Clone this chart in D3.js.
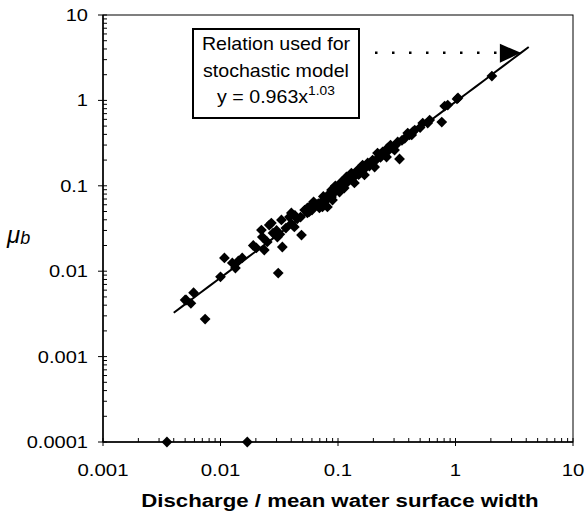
<!DOCTYPE html>
<html>
<head>
<meta charset="utf-8">
<script src="https://cdn.jsdelivr.net/npm/d3@7/dist/d3.min.js"></script>
<style>
  body { margin: 0; background: #fff; }
  text { font-family: "Liberation Sans", Arial, sans-serif; fill: #000; }
</style>
</head>
<body>
<div id="chart"></div>
<script>
// tick values / labels
const xTicks = [0.001, 0.01, 0.1, 1, 10];
const xTickLabels = ["0.001", "0.01", "0.1", "1", "10"];
const yTicks = [0.0001, 0.001, 0.01, 0.1, 1, 10];
const yTickLabels = ["0.0001", "0.001", "0.01", "0.1", "1", "10"];

// observed points (discharge / width, mu_b)
const dischargeX = [0.0035, 0.0169,
    0.0050, 0.0051, 0.0056, 0.0059, 0.0074, 0.0100, 0.0108, 0.0126, 0.0134, 0.0142,
    0.0153, 0.019, 0.0202, 0.0227, 0.0236, 0.0223, 0.025, 0.026, 0.0271, 0.028,
    0.0305, 0.0310, 0.0336, 0.033, 0.036, 0.0386, 0.0401, 0.0425, 0.045, 0.0489,
    0.052, 0.0549, 0.0549, 0.0594, 0.060, 0.065, 0.0695, 0.0723, 0.0738, 0.075,
    0.0798, 0.0813, 0.0881, 0.0881, 0.0898, 0.0934, 0.095, 0.103, 0.107, 0.109,
    0.113, 0.118, 0.12, 0.130, 0.138, 0.144, 0.147, 0.15, 0.162, 0.168, 0.179,
    0.185, 0.197, 0.205, 0.217, 0.226, 0.24, 0.259, 0.264, 0.28, 0.292, 0.303,
    0.322, 0.334, 0.35, 0.392, 0.407, 0.424, 0.432, 0.526, 0.58, 0.603, 0.764,
    0.809, 0.859, 1.03, 1.05, 2.04,
    0.030, 0.032, 0.040, 0.043, 0.048, 0.057, 0.062, 0.068, 0.084, 0.092,
    0.100, 0.110, 0.125, 0.135, 0.155, 0.170, 0.190, 0.210, 0.230, 0.250,
    0.270, 0.310, 0.370, 0.450, 0.500];
const muB = [0.0001, 0.0001,
    0.0046, 0.0046, 0.0042, 0.0056, 0.00275, 0.0086, 0.0143, 0.0125, 0.0109, 0.0132,
    0.0143, 0.020, 0.0187, 0.0251, 0.0177, 0.0303, 0.022, 0.0347, 0.0366, 0.028,
    0.0251, 0.0095, 0.0192, 0.0398, 0.032, 0.0431, 0.0481, 0.033, 0.041, 0.0265,
    0.052, 0.0481, 0.055, 0.0596, 0.052, 0.060, 0.055, 0.0646, 0.0565, 0.075,
    0.0682, 0.0565, 0.074, 0.0893, 0.0682, 0.0893, 0.100, 0.0845, 0.111, 0.0942,
    0.0942, 0.127, 0.110, 0.141, 0.108, 0.145, 0.153, 0.135, 0.175, 0.134, 0.185,
    0.170, 0.200, 0.166, 0.242, 0.230, 0.250, 0.217, 0.277, 0.300, 0.277, 0.262,
    0.326, 0.206, 0.340, 0.415, 0.394, 0.394, 0.427, 0.543, 0.543, 0.589, 0.558,
    0.859, 0.883, 1.04, 1.07, 1.93,
    0.030, 0.027, 0.036, 0.045, 0.043, 0.050, 0.065, 0.062, 0.080, 0.082,
    0.095, 0.100, 0.120, 0.125, 0.150, 0.160, 0.180, 0.200, 0.215, 0.240,
    0.260, 0.300, 0.360, 0.450, 0.480];

// fitted relation y = 0.963 x^1.03
const fitCoef = 0.963;
const fitExp = 1.03;
const fitRange = [0.004, 4.2];
const arrowX = 3.6;

const W = 585, H = 515;
const margin = { top: 15, right: 12, bottom: 73, left: 103 };

const svg = d3.select("#chart").append("svg")
    .attr("width", W)
    .attr("height", H);

const x = d3.scaleLog().domain([0.001, 10]).range([margin.left, W - margin.right]);
const y = d3.scaleLog().domain([0.0001, 10]).range([H - margin.bottom, margin.top]);

const fit = v => fitCoef * Math.pow(v, fitExp);

// the scanned lettering is wider than Arial, so stretch text horizontally
const wideText = (sel, tx, ty, sx) => sel.attr("transform", `translate(${tx},${ty}) scale(${sx},1)`);

// minor ticks 2..9 per decade
const minors = (lo, hi) => {
    const out = [];
    for (let d = lo; d < hi; d *= 10) {
        for (let k = 2; k <= 9; k++) out.push(d * k);
    }
    return out;
};

// frame
svg.append("rect")
    .attr("x", x(0.001))
    .attr("y", y(10))
    .attr("width", x(10) - x(0.001))
    .attr("height", y(0.0001) - y(10))
    .attr("fill", "none")
    .attr("stroke", "#000")
    .attr("stroke-width", 1);

// y axis ticks
const yAxis = svg.append("g");
yAxis.append("line")
    .attr("x1", x(0.001)).attr("x2", x(0.001))
    .attr("y1", y(10)).attr("y2", y(0.0001))
    .attr("stroke", "#000").attr("stroke-width", 1.5);
yAxis.selectAll(".minor").data(minors(0.0001, 10)).join("line")
    .attr("x1", x(0.001)).attr("x2", x(0.001) + 4)
    .attr("y1", d => y(d)).attr("y2", d => y(d))
    .attr("stroke", "#000");
yAxis.selectAll(".major").data(yTicks).join("line")
    .attr("x1", x(0.001) - 5).attr("x2", x(0.001) + 4)
    .attr("y1", d => y(d)).attr("y2", d => y(d))
    .attr("stroke", "#000");
yAxis.selectAll("text").data(yTicks).join("text")
    .each(function (d) { wideText(d3.select(this), x(0.001) - 15, y(d) + 6, 1.18); })
    .attr("text-anchor", "end")
    .attr("font-size", 17)
    .text((d, i) => yTickLabels[i]);

// x axis ticks
const xAxis = svg.append("g");
xAxis.append("line")
    .attr("x1", x(0.001)).attr("x2", x(10))
    .attr("y1", y(0.0001)).attr("y2", y(0.0001))
    .attr("stroke", "#000").attr("stroke-width", 1.5);
xAxis.selectAll(".minor").data(minors(0.001, 10)).join("line")
    .attr("x1", d => x(d)).attr("x2", d => x(d))
    .attr("y1", y(0.0001) - 4).attr("y2", y(0.0001))
    .attr("stroke", "#000");
xAxis.selectAll(".major").data(xTicks).join("line")
    .attr("x1", d => x(d)).attr("x2", d => x(d))
    .attr("y1", y(0.0001) - 4).attr("y2", y(0.0001) + 4)
    .attr("stroke", "#000");
xAxis.selectAll("text").data(xTicks).join("text")
    .each(function (d) { wideText(d3.select(this), x(d), y(0.0001) + 34, 1.2); })
    .attr("text-anchor", "middle")
    .attr("font-size", 17)
    .text((d, i) => xTickLabels[i]);

// axis titles
svg.append("text")
    .call(wideText, (x(0.001) + x(10)) / 2 + 2, 507, 1.17)
    .attr("text-anchor", "middle")
    .attr("font-size", 19)
    .attr("font-weight", "bold")
    .text("Discharge / mean water surface width");

const yTitle = svg.append("text")
    .attr("x", 7)
    .attr("y", 243)
    .attr("font-style", "italic")
    .attr("font-size", 24);
yTitle.append("tspan").text("\u03bc");
yTitle.append("tspan").attr("font-size", 18).attr("dy", 1).text("b");

// fitted line
const fitData = d3.range(0, 41).map(i => {
    const v = fitRange[0] * Math.pow(fitRange[1] / fitRange[0], i / 40);
    return [v, fit(v)];
});
svg.append("path")
    .datum(fitData)
    .attr("d", d3.line().x(d => x(d[0])).y(d => y(d[1])))
    .attr("fill", "none")
    .attr("stroke", "#000")
    .attr("stroke-width", 2);

// points
const pts = dischargeX.map((v, i) => ({ q: v, mu: muB[i] }));
svg.append("g").selectAll("path").data(pts).join("path")
    .attr("d", d3.symbol(d3.symbolSquare, 58))
    .attr("transform", d => `translate(${x(d.q)},${y(d.mu)}) rotate(45)`)
    .attr("fill", "#000");

// annotation box
const box = { x: 193, y: 29, w: 166, h: 89 };
svg.append("rect")
    .attr("x", box.x).attr("y", box.y)
    .attr("width", box.w).attr("height", box.h)
    .attr("fill", "#fff")
    .attr("stroke", "#000")
    .attr("stroke-width", 2);
const cx = box.x + box.w / 2;
svg.append("text").call(wideText, cx, 50, 1.06).attr("text-anchor", "middle")
    .attr("font-size", 18.5).text("Relation used for");
svg.append("text").call(wideText, cx, 77, 1.06).attr("text-anchor", "middle")
    .attr("font-size", 18.5).text("stochastic model");
const eq = svg.append("text").call(wideText, cx, 103, 1.06).attr("text-anchor", "middle")
    .attr("font-size", 18.5);
eq.append("tspan").text("y = 0.963x");
eq.append("tspan").attr("font-size", 13).attr("dy", -8).text("1.03");

// dotted arrow to the fit line
const tipX = x(arrowX), tipY = y(fit(arrowX));
svg.append("line")
    .attr("x1", box.x + box.w + 16).attr("x2", tipX - 22)
    .attr("y1", tipY).attr("y2", tipY)
    .attr("stroke", "#000")
    .attr("stroke-width", 2.5)
    .attr("stroke-dasharray", "2.5 14.5");
svg.append("path")
    .attr("d", `M${tipX},${tipY} L${tipX - 21},${tipY - 9} L${tipX - 21},${tipY + 10} Z`)
    .attr("fill", "#000");
</script>
</body>
</html>
